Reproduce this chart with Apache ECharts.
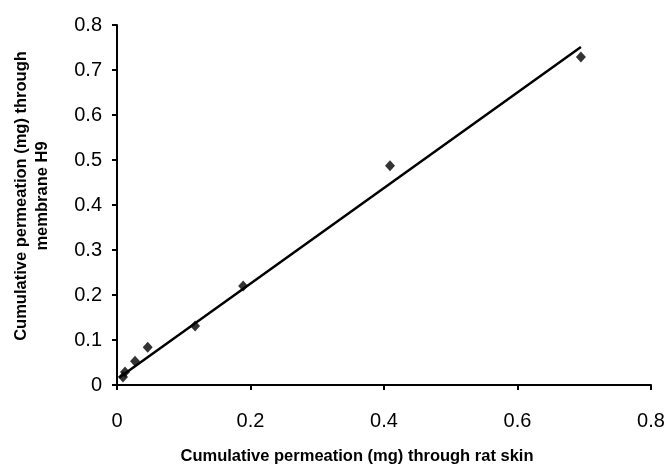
<!DOCTYPE html>
<html>
<head>
<meta charset="utf-8">
<script src="https://cdn.jsdelivr.net/npm/echarts@6/dist/echarts.min.js"></script>
<style>html,body{margin:0;padding:0;background:#fff}#c{width:671px;height:470px}</style>
</head>
<body>
<div id="c"></div>
<script>
const ratSkin = [0.009, 0.012, 0.027, 0.046, 0.117, 0.189, 0.409, 0.695];
const membraneH9 = [0.018, 0.029, 0.053, 0.084, 0.131, 0.220, 0.487, 0.729];
const trendX = [0.003, 0.695];
const trendY = [0.016, 0.751];
const xTicks = [0, 0.2, 0.4, 0.6, 0.8];
const yTicks = [0, 0.1, 0.2, 0.3, 0.4, 0.5, 0.6, 0.7, 0.8];

const chart = echarts.init(document.getElementById('c'), null, {renderer: 'canvas'});
const axisCommon = {
  type: 'value',
  min: 0, max: 0.8,
  axisLine: {show: true, onZero: false, lineStyle: {color: '#000', width: 2}},
  axisTick: {show: true, inside: false, length: 5, lineStyle: {color: '#000', width: 2}},
  splitLine: {show: false},
  axisLabel: {color: '#000', fontSize: 20, fontFamily: 'Liberation Sans, Arial, sans-serif',
    formatter: v => String(+v.toFixed(1))}
};
chart.setOption({
  animation: false,
  backgroundColor: '#fff',
  grid: {left: 117, right: 20, top: 25, bottom: 85, containLabel: false, outerBoundsMode: 'none'},
  xAxis: Object.assign({}, axisCommon, {
    interval: 0.2,
    axisLabel: Object.assign({}, axisCommon.axisLabel, {margin: 26}),
    name: 'Cumulative permeation (mg) through rat skin',
    nameLocation: 'middle', nameGap: 63,
    nameTextStyle: {color: '#000', fontSize: 16.5, fontWeight: 'bold', fontFamily: 'Liberation Sans, Arial, sans-serif', padding: [0, 54, 0, 0]}
  }),
  yAxis: Object.assign({}, axisCommon, {
    interval: 0.1,
    axisLabel: Object.assign({}, axisCommon.axisLabel, {margin: 15}),
    name: 'Cumulative permeation (mg) through\nmembrane H9',
    nameLocation: 'middle', nameGap: 64, nameRotate: 90,
    nameTextStyle: {color: '#000', fontSize: 16.5, fontWeight: 'bold', lineHeight: 21, fontFamily: 'Liberation Sans, Arial, sans-serif', padding: [0, 0, 0, 18]}
  }),
  series: [
    {
      type: 'line',
      data: trendX.map((x, i) => [x, trendY[i]]),
      symbol: 'none',
      lineStyle: {color: '#000', width: 2.5},
      z: 2
    },
    {
      type: 'scatter',
      data: ratSkin.map((x, i) => [x, membraneH9[i]]),
      symbol: 'diamond',
      symbolSize: [10, 11],
      itemStyle: {color: '#000'},
      z: 3
    }
  ]
});
</script>
</body>
</html>
